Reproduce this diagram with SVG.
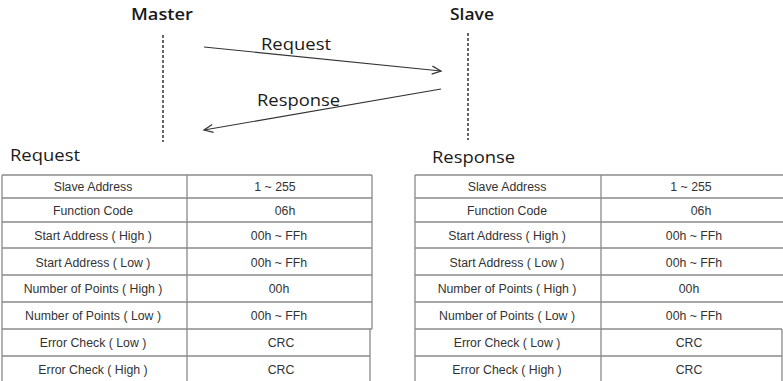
<svg xmlns="http://www.w3.org/2000/svg" width="783" height="381" viewBox="0 0 783 381">
<defs>
<marker id="ah" markerWidth="12" markerHeight="10" refX="10" refY="5" orient="auto" markerUnits="userSpaceOnUse">
<path d="M1,1 L10,5 L1,9" fill="none" stroke="#333" stroke-width="1.2"/>
</marker>
<style>
.h{font-family:"Open Sans","Liberation Sans",sans-serif;font-size:16px;fill:#1a1a1a;}
.hb{font-family:"Open Sans","Liberation Sans",sans-serif;font-size:16px;font-weight:600;fill:#1a1a1a;}
.t{font-family:"Liberation Sans",Arial,sans-serif;font-size:12.3px;fill:#333;text-anchor:middle;}
.g{stroke:#8a8a8a;stroke-width:1.3;fill:none;}
.life{stroke:#333;stroke-width:1.5;stroke-dasharray:3,2;}
.msg{stroke:#333;stroke-width:1.2;fill:none;}
</style>
</defs>
<rect width="783" height="381" fill="#fff"/>
<g id="master">
<text class="hb" x="131" y="20" textLength="62" lengthAdjust="spacingAndGlyphs">Master</text>
<line class="life" x1="163" y1="35" x2="163" y2="142"/>
</g>
<g id="slave">
<text class="hb" x="450" y="20" textLength="44" lengthAdjust="spacingAndGlyphs">Slave</text>
<line class="life" x1="468" y1="33" x2="468" y2="140"/>
</g>
<g id="connectors">
<line class="msg" x1="204" y1="47" x2="441" y2="71" marker-end="url(#ah)"/>
<text class="h" x="261" y="50" textLength="70" lengthAdjust="spacingAndGlyphs">Request</text>
<line class="msg" x1="441" y1="89" x2="204" y2="130" marker-end="url(#ah)"/>
<text class="h" x="257" y="106" textLength="83" lengthAdjust="spacingAndGlyphs">Response</text>
</g>
<g id="request-table">
<text class="h" x="10" y="161" textLength="70" lengthAdjust="spacingAndGlyphs">Request</text>
<path class="g" d="M2,175 H372 M2,198 H372 M2,222 H372 M2,248 H372 M2,275 H372 M2,302 H372 M2,329 H372 M2,356 H370 M2,175 V381 M187,175 V381 M372,175 V329 M370,329 V381"/>
<text class="t" x="93" y="191">Slave Address</text><text class="t" x="275" y="191">1 ~ 255</text>
<text class="t" x="93" y="215">Function Code</text><text class="t" x="285" y="215">06h</text>
<text class="t" x="93" y="240">Start Address ( High )</text><text class="t" x="279" y="240">00h ~ FFh</text>
<text class="t" x="93" y="267">Start Address ( Low )</text><text class="t" x="279" y="267">00h ~ FFh</text>
<text class="t" x="93" y="293">Number of Points ( High )</text><text class="t" x="279" y="293">00h</text>
<text class="t" x="93" y="320">Number of Points ( Low )</text><text class="t" x="279" y="320">00h ~ FFh</text>
<text class="t" x="93" y="347">Error Check ( Low )</text><text class="t" x="281" y="347">CRC</text>
<text class="t" x="93" y="374">Error Check ( High )</text><text class="t" x="281" y="374">CRC</text>
</g>
<g id="response-table">
<text class="h" x="432" y="163" textLength="83" lengthAdjust="spacingAndGlyphs">Response</text>
<path class="g" d="M415,175 H783 M415,198 H783 M415,222 H783 M415,248 H783 M415,275 H783 M415,302 H783 M415,329 H782 M415,356 H782 M415,175 V381 M601,175 V381 M782,329 V381"/>
<text class="t" x="507" y="191">Slave Address</text><text class="t" x="691" y="191">1 ~ 255</text>
<text class="t" x="507" y="215">Function Code</text><text class="t" x="701" y="215">06h</text>
<text class="t" x="507" y="240">Start Address ( High )</text><text class="t" x="694" y="240">00h ~ FFh</text>
<text class="t" x="507" y="267">Start Address ( Low )</text><text class="t" x="694" y="267">00h ~ FFh</text>
<text class="t" x="507" y="293">Number of Points ( High )</text><text class="t" x="689" y="293">00h</text>
<text class="t" x="507" y="320">Number of Points ( Low )</text><text class="t" x="694" y="320">00h ~ FFh</text>
<text class="t" x="507" y="347">Error Check ( Low )</text><text class="t" x="689" y="347">CRC</text>
<text class="t" x="507" y="374">Error Check ( High )</text><text class="t" x="689" y="374">CRC</text>
</g>
</svg>
